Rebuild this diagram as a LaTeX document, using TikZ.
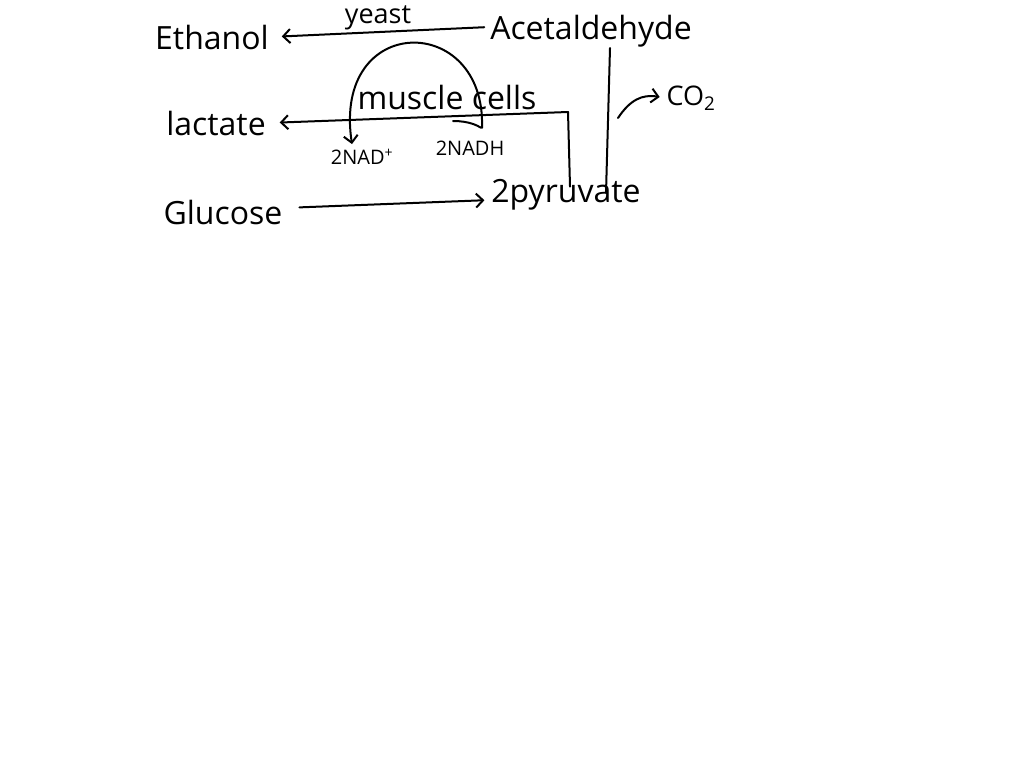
\documentclass[tikz,border=0pt]{standalone}
\usepackage{fontspec}
\setmainfont{Open Sans}
\usetikzlibrary{arrows.meta}
\begin{document}
\begin{tikzpicture}[x=1pt,y=-1pt,line width=2pt,line cap=round,line join=round,
  lbl/.style={font=\fontsize{32}{36}\selectfont,inner sep=0pt,anchor=center},
  sm/.style={font=\fontsize{20}{22}\selectfont,inner sep=0pt,anchor=center},
  arr/.style={-{Straight Barb[length=7pt,width=14pt]}}]
\useasboundingbox[fill=white] (0,0) rectangle (1024,768);
% nodes
\node[lbl] (eth) at (212,37) {Ethanol};
\node[lbl] (ace) at (591,31) {Acetaldehyde};
\node[lbl,font=\fontsize{27}{30}\selectfont] (yeast) at (378,18) {yeast};
\node[lbl] (lac) at (216,123) {lactate};
\node[lbl] (mus) at (447,97) {muscle cells};
\node[lbl,font=\fontsize{27}{30}\selectfont] (co2) at (691,98) {CO\textsubscript{2}};
\node[lbl] (glu) at (223,212) {Glucose};
\node[lbl] (pyr) at (566,195) {2pyruvate};
\node[sm] (nadp) at (362,157) {2NAD\textsuperscript{+}};
\node[sm] (nadh) at (470,148) {2NADH};
\coordinate (corner) at (568,112);
\coordinate (cstart) at (618,118);
% connectors
\draw[arr,shorten <=5pt,shorten >=12pt] ([yshift=4pt]ace.west) -- (eth.east);
\draw ([xshift=19pt]ace.south) -- ([xshift=40pt,yshift=2pt]pyr.center);
\draw[arr,shorten >=6pt] (cstart) .. controls (630,100) and (642,94) .. (co2.west);
\draw[arr,shorten >=13pt] ([xshift=4pt,yshift=-8pt]pyr.north) -- (corner) -- (lac.east);
\draw[arr,shorten <=16pt,shorten >=6pt] ([yshift=4pt]glu.east) -- ([yshift=-5pt]pyr.west);
\draw[arr] ([xshift=12pt,yshift=12pt]nadh.north) .. controls (486,12) and (332,12) .. ([xshift=-10pt,yshift=4pt]nadp.north);
\draw (453,121) .. controls (470,121) and (478,126) .. ([xshift=11pt,yshift=12pt]nadh.north);
\end{tikzpicture}
\end{document}
